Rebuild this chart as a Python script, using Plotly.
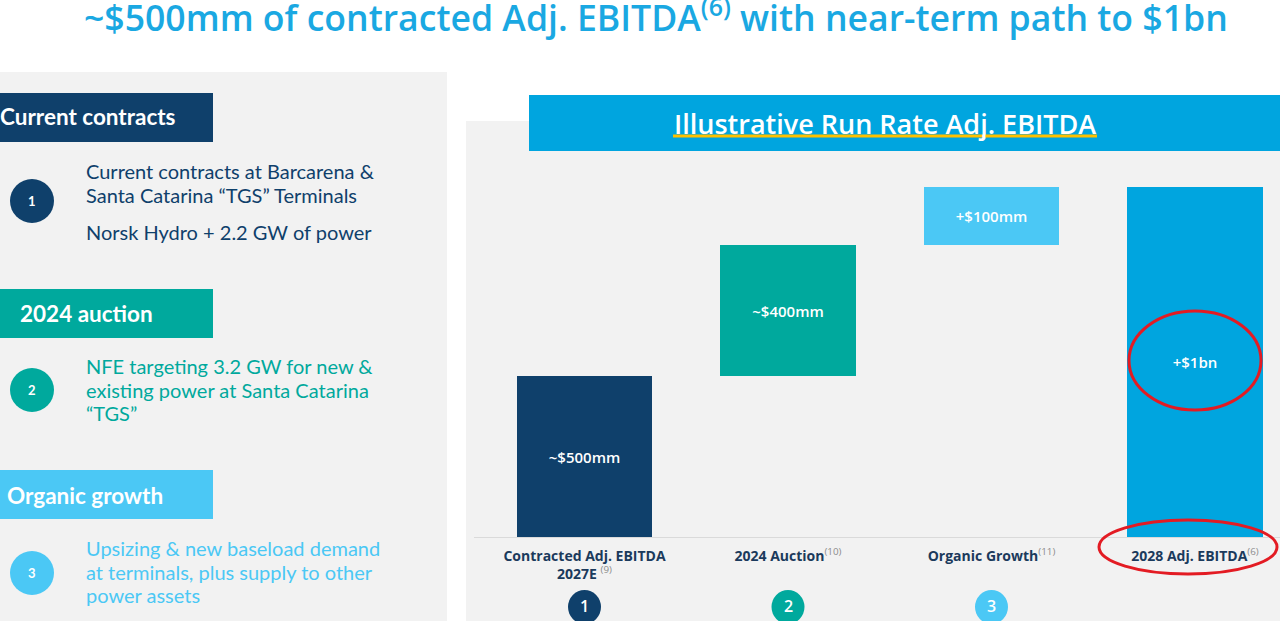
import plotly.graph_objects as go

# ---------------- data ----------------
categories = ["Contracted Adj. EBITDA 2027E", "2024 Auction", "Organic Growth", "2028 Adj. EBITDA"]
footnotes = ["(9)", "(10)", "(11)", "(6)"]
bar_labels = ["~$500mm", "~$400mm", "+$100mm", "+$1bn"]
# illustrative (not to scale) bar heights as drawn on the slide
step_heights = [161, 131, 58]
step_numbers = ["1", "2", "3"]

W, H = 1280, 621
NAVY = "#0f406b"
TEAL = "#00a99d"
LIGHT = "#4bc8f5"
BLUE = "#00a5df"
GRAY_BG = "#f2f2f2"
TITLE_BLUE = "#1aa8e2"
CHART_FONT = "Open Sans, sans-serif"
BODY_FONT = "Lato, Noto Sans, sans-serif"

total = sum(step_heights)
bases = []
acc = 0
for h in step_heights:
    bases.append(acc)
    acc += h
heights = step_heights + [total]
bases = bases + [0]
colors = [NAVY, TEAL, LIGHT, BLUE]


def px(x):
    return x / W


def py(y):
    return 1 - y / H


fig = go.Figure()
fig.add_trace(go.Bar(
    x=list(range(len(categories))), y=heights, base=bases,
    marker=dict(color=colors, line=dict(width=0)),
    width=0.668,
    text=bar_labels, textposition="inside", insidetextanchor="middle",
    textangle=0, constraintext="none",
    textfont=dict(color="white", size=15, family=CHART_FONT, weight=600),
    hoverinfo="skip",
))

ticktext = []
for c, f in zip(categories, footnotes):
    if c.startswith("Contracted"):
        t = "Contracted Adj. EBITDA<br>2027E <sup><span style='color:#8c8c8c;font-weight:normal'>%s</span></sup>" % f
    else:
        t = "%s<sup><span style='color:#8c8c8c;font-weight:normal'>%s</span></sup>" % (c, f)
    ticktext.append(t)

shapes = []
# background panels
shapes.append(dict(type="rect", xref="paper", yref="paper", x0=px(0), x1=px(447), y0=py(621), y1=py(72),
                   fillcolor=GRAY_BG, line=dict(width=0), layer="below"))
shapes.append(dict(type="rect", xref="paper", yref="paper", x0=px(466), x1=px(1280), y0=py(621), y1=py(121),
                   fillcolor=GRAY_BG, line=dict(width=0), layer="below"))
# chart title band
shapes.append(dict(type="rect", xref="paper", yref="paper", x0=px(529), x1=px(1280), y0=py(151), y1=py(95),
                   fillcolor=BLUE, line=dict(width=0), layer="below"))
shapes.append(dict(type="line", xref="paper", yref="paper", x0=px(673), x1=px(1097), y0=py(136), y1=py(136),
                   line=dict(color="#ffc000", width=3)))
# baseline
shapes.append(dict(type="line", xref="paper", yref="paper", x0=px(474), x1=px(1280), y0=py(537.5), y1=py(537.5),
                   line=dict(color="#dadada", width=1), layer="below"))
# left header boxes
for (y0, y1, col) in [(93, 142, NAVY), (289, 338, TEAL), (470, 519, LIGHT)]:
    shapes.append(dict(type="rect", xref="paper", yref="paper", x0=px(0), x1=px(213), y0=py(y1), y1=py(y0),
                       fillcolor=col, line=dict(width=0)))
# left circles
for (cy, col) in [(201, NAVY), (390, TEAL), (573, LIGHT)]:
    shapes.append(dict(type="circle", xref="paper", yref="paper", x0=px(10), x1=px(54), y0=py(cy + 22), y1=py(cy - 22),
                       fillcolor=col, line=dict(width=0)))
# numbered circles below chart bars
r = 16.5 / 203.5
for i, col in enumerate(colors[:3]):
    shapes.append(dict(type="circle", xref="x", yref="paper", x0=i - r, x1=i + r, y0=py(624), y1=py(590),
                       fillcolor=col, line=dict(width=0)))
# red highlight ellipses
shapes.append(dict(type="circle", xref="paper", yref="paper", x0=px(1129), x1=px(1261), y0=py(410), y1=py(311),
                   line=dict(color="#e31b23", width=3)))
shapes.append(dict(type="circle", xref="paper", yref="paper", x0=px(1099), x1=px(1277), y0=py(574), y1=py(520),
                   line=dict(color="#e31b23", width=3)))

ann = []
ann.append(dict(text="~$500mm of contracted Adj. EBITDA<sup>(6)</sup> with near-term path to $1bn",
                x=px(656), y=py(15), xref="paper", yref="paper", showarrow=False, xanchor="center", yanchor="middle",
                font=dict(family=CHART_FONT, size=35.6, color=TITLE_BLUE, weight=600)))
ann.append(dict(text="Illustrative Run Rate Adj. EBITDA", x=px(885), y=py(123), xref="paper", yref="paper",
                showarrow=False, xanchor="center", yanchor="middle",
                font=dict(family=CHART_FONT, size=27, color="white", weight=600)))
# header box labels
for (txt, x, y) in [("Current contracts", -2, 117), ("2024 auction", 18, 313), ("Organic growth", 5, 495)]:
    ann.append(dict(text=txt, x=px(x), y=py(y), xref="paper", yref="paper", showarrow=False,
                    xanchor="left", yanchor="middle",
                    font=dict(family=BODY_FONT, size=22.5, color="white", weight="bold")))
# left circle numbers
for (n, cy) in zip(step_numbers, [201, 390, 573]):
    ann.append(dict(text=n, x=px(32), y=py(cy), xref="paper", yref="paper", showarrow=False,
                    xanchor="center", yanchor="middle",
                    font=dict(family=BODY_FONT, size=13, color="white", weight="bold")))
# left descriptions
desc = [
    ("Current contracts at Barcarena &", 171, NAVY),
    ("Santa Catarina \u201cTGS\u201d Terminals", 195, NAVY),
    ("Norsk Hydro + 2.2 GW of power", 232, NAVY),
    ("NFE targeting 3.2 GW for new &", 366, TEAL),
    ("existing power at Santa Catarina", 390, TEAL),
    ("\u201cTGS\u201d", 413, TEAL),
    ("Upsizing & new baseload demand", 548, LIGHT),
    ("at terminals, plus supply to other", 572, LIGHT),
    ("power assets", 595, LIGHT),
]
for (txt, y, col) in desc:
    ann.append(dict(text=txt, x=px(84), y=py(y), xref="paper", yref="paper", showarrow=False,
                    xanchor="left", yanchor="middle",
                    font=dict(family=BODY_FONT, size=20, color=col)))
# chart circle numbers
for i, n in enumerate(step_numbers):
    ann.append(dict(text=n, x=i, y=py(606), xref="x", yref="paper", showarrow=False,
                    xanchor="center", yanchor="middle",
                    font=dict(family=CHART_FONT, size=16, color="white", weight=600)))

x0 = -(584.5 - 466) / 203.5
fig.update_layout(
    width=W, height=H, margin=dict(l=0, r=0, t=0, b=0),
    paper_bgcolor="white", plot_bgcolor="rgba(0,0,0,0)",
    showlegend=False, bargap=0,
    shapes=shapes, annotations=ann,
    xaxis=dict(domain=[px(466), 1], range=[x0, x0 + 4], tickvals=list(range(4)), ticktext=ticktext,
               showgrid=False, zeroline=False, showline=False, ticks="outside", ticklen=6,
               tickcolor="rgba(0,0,0,0)",
               tickfont=dict(family=CHART_FONT, size=14, color="#1b3a5c", weight="bold"), fixedrange=True),
    yaxis=dict(domain=[py(537), py(121)], range=[0, 416], visible=False, fixedrange=True),
)

fig.write_html("out.html", config={"displayModeBar": False},
               post_script="document.body.style.margin='0';document.body.style.overflow='hidden';")
